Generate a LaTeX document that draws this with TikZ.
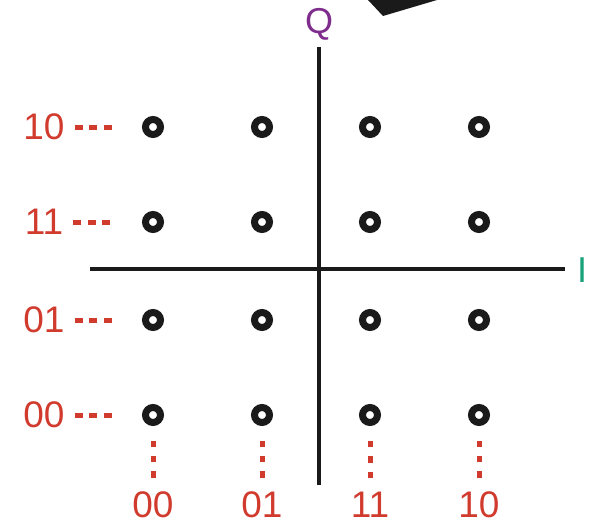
\documentclass[tikz,border=0pt]{standalone}
\usepackage{fontspec}
\setmainfont{Liberation Sans}
\usetikzlibrary{positioning}
\definecolor{bitRed}{HTML}{D13B2E}
\definecolor{axisQ}{HTML}{7E2D8C}
\definecolor{axisI}{HTML}{1AA37A}
\definecolor{dotBlack}{HTML}{1A1A1A}
\tikzset{
  axisLine/.style={line width=3.2pt, draw=dotBlack},
  symbolPt/.style={circle, draw=dotBlack, fill=white, line width=7pt,
                   minimum size=15pt, inner sep=0pt, outer sep=0pt},
  bitLbl/.style={text=bitRed, font=\fontsize{37}{40}\selectfont, inner sep=0pt},
  axisLbl/.style={font=\fontsize{36}{40}\selectfont, inner sep=0pt},
  tickH/.style={draw=bitRed, line width=5pt, dash pattern=on 8pt off 6.5pt},
  tickV/.style={draw=bitRed, line width=5pt, dash pattern=on 6.3pt off 9pt},
}
\begin{document}
\begin{tikzpicture}[x=1pt, y=-1pt]
    \useasboundingbox (0,0) rectangle (595,525);
    % axes
    \coordinate (iL) at (90,269);
    \coordinate (iR) at (565,269);
    \coordinate (qB) at (319,485);
    \coordinate (qT) at (319,47);
    \draw[axisLine] (iL) -- (iR);
    \draw[axisLine] (qB) -- (qT);
    \node[axisLbl, text=axisQ] (qLbl) at (319,24) {Q};
    \node[axisLbl, text=axisI] (iLbl) at (582,270) {I};
    % pointer tip, cut by the top edge
    \fill[dotBlack] (368,0) -- (383,16) -- (437,0) -- cycle;
    % constellation
    \foreach \c/\x in {1/153, 2/262, 3/370, 4/479}
      \foreach \r/\y in {1/127, 2/222, 3/320, 4/415}
        \node[symbolPt] (p\c\r) at (\x,\y) {};
    % Gray code, Q side
    \foreach \r/\y/\b in {1/127/10, 2/222/11, 3/320/01, 4/415/00} {
      \node[bitLbl] (row\r) at (44,\y) {\b};
      \draw[tickH, shorten <=10pt, shorten >=41pt] (row\r.east) -- (p1\r.center);
    }
    % Gray code, I side
    \foreach \c/\x/\b in {1/153/00, 2/262/01, 3/370/11, 4/479/10} {
      \node[bitLbl] (col\c) at (\x,505) {\b};
      \draw[tickV, shorten <=14pt, shorten >=25pt] (col\c.north) -- (p\c4.center);
    }
\end{tikzpicture}
\end{document}
